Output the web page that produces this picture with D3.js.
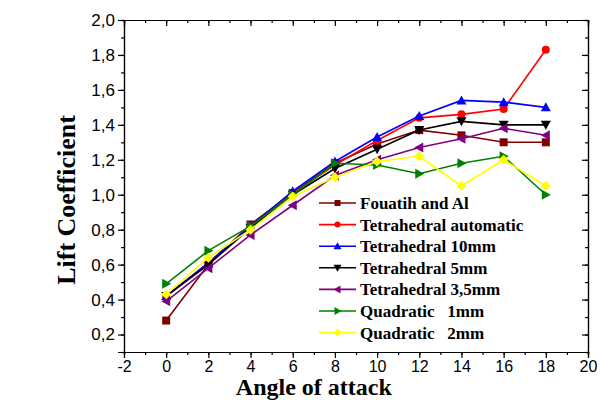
<!DOCTYPE html>
<html>
<head>
<meta charset="utf-8">
<script src="https://cdn.jsdelivr.net/npm/d3@7"></script>
<style>
 body { margin: 0; background: #fff; }
 svg text { font-family: "Liberation Sans", Arial, sans-serif; }
</style>
</head>
<body>
<svg width="600" height="400"></svg>
<script>
// data
var angles = [0, 2, 4, 6, 8, 10, 12, 14, 16, 18];
var fouatih   = [0.28, 0.60, 0.83, 1.01, 1.18, 1.29, 1.37, 1.34, 1.30, 1.30];
var tetAuto   = [0.42, 0.61, 0.82, 1.01, 1.17, 1.31, 1.44, 1.46, 1.49, 1.83];
var tet10     = [0.42, 0.61, 0.82, 1.02, 1.19, 1.33, 1.45, 1.54, 1.53, 1.50];
var tet5      = [0.42, 0.60, 0.81, 1.00, 1.15, 1.26, 1.37, 1.42, 1.40, 1.40];
var tet35     = [0.39, 0.58, 0.77, 0.94, 1.11, 1.20, 1.27, 1.32, 1.38, 1.34];
var quad1     = [0.49, 0.68, 0.82, 1.00, 1.18, 1.17, 1.12, 1.18, 1.22, 1.00];
var quad2     = [0.43, 0.64, 0.80, 0.99, 1.10, 1.19, 1.22, 1.05, 1.20, 1.05];

var seriesNames = ["Fouatih and Al", "Tetrahedral automatic", "Tetrahedral 10mm",
 "Tetrahedral 5mm", "Tetrahedral 3,5mm", "Quadratic   1mm", "Quadratic   2mm"];
var xTicks = [-2, 0, 2, 4, 6, 8, 10, 12, 14, 16, 18, 20];
var yTicks = [0.2, 0.4, 0.6, 0.8, 1.0, 1.2, 1.4, 1.6, 1.8, 2.0];

var series = [
 {name: seriesNames[0], values: fouatih, color: "#800000", shape: "square"},
 {name: seriesNames[1], values: tetAuto, color: "#ff0000", shape: "circle"},
 {name: seriesNames[2], values: tet10,   color: "#0000ff", shape: "up"},
 {name: seriesNames[3], values: tet5,    color: "#000000", shape: "down"},
 {name: seriesNames[4], values: tet35,   color: "#800080", shape: "left"},
 {name: seriesNames[5], values: quad1,   color: "#008000", shape: "right"},
 {name: seriesNames[6], values: quad2,   color: "#ffff00", shape: "diamond"}
];

var svg = d3.select("svg"),
 margin = {top: 20, right: 12, bottom: 48, left: 124},
 width = +svg.attr("width") - margin.left - margin.right,
 height = +svg.attr("height") - margin.top - margin.bottom;

var x = d3.scaleLinear().domain([-2, 20]).range([0, width]);
var y = d3.scaleLinear().domain([0.1, 2.0]).range([height, 0]);

var g = svg.append("g")
 .attr("transform", "translate(" + margin.left + "," + margin.top + ")");

var comma = function(d) { return d3.format(".1f")(d).replace(".", ","); };
var xMinor = d3.range(-2, 20.01, 1);
var yMinor = d3.range(0.1, 2.001, 0.1);

function styleAxis(sel, size) {
 sel.selectAll("path").attr("stroke", "#000").attr("stroke-width", 1.2);
 sel.selectAll("line").attr("stroke", "#000").attr("stroke-width", 1.2);
 sel.selectAll("text").attr("font-size", (size || 17) + "px").attr("fill", "#000");
}

// minor ticks
g.append("g").attr("transform", "translate(0," + height + ")")
 .call(d3.axisBottom(x).tickValues(xMinor).tickSize(3).tickFormat(""))
 .call(styleAxis);
g.append("g")
 .call(d3.axisTop(x).tickValues(xMinor).tickSize(-3).tickFormat(""))
 .call(styleAxis);
g.append("g")
 .call(d3.axisLeft(y).tickValues(yMinor).tickSize(3).tickFormat(""))
 .call(styleAxis);
g.append("g").attr("transform", "translate(" + width + ",0)")
 .call(d3.axisRight(y).tickValues(yMinor).tickSize(-3).tickFormat(""))
 .call(styleAxis);

// major ticks
g.append("g").attr("transform", "translate(0," + height + ")")
 .call(d3.axisBottom(x).tickValues(xTicks).tickSize(6).tickPadding(3)
  .tickFormat(function(d) { return String(d); }))
 .call(styleAxis, 16);
g.append("g")
 .call(d3.axisTop(x).tickValues(xTicks).tickSize(-6).tickFormat(""))
 .call(styleAxis);
g.append("g")
 .call(d3.axisLeft(y).tickValues(yTicks).tickSize(6).tickPadding(3).tickFormat(comma))
 .call(styleAxis, 17);
g.append("g").attr("transform", "translate(" + width + ",0)")
 .call(d3.axisRight(y).tickValues(yTicks).tickSize(-6).tickFormat(""))
 .call(styleAxis);

// marker shapes
function marker(sel, shape, color, s) {
 var h = s / 2;
 if (shape == "circle") {
  sel.append("circle").attr("r", h).attr("fill", color);
  return;
 }
 var pts;
 if (shape == "square") pts = [[-h, -h], [h, -h], [h, h], [-h, h]];
 else if (shape == "up") pts = [[0, -h - 1], [h + 1, h], [-h - 1, h]];
 else if (shape == "down") pts = [[0, h + 1], [h + 1, -h], [-h - 1, -h]];
 else if (shape == "left") pts = [[-h - 1, 0], [h, -h - 1], [h, h + 1]];
 else if (shape == "right") pts = [[h + 1, 0], [-h, -h - 1], [-h, h + 1]];
 else pts = [[0, -h - 1], [h + 1, 0], [0, h + 1], [-h - 1, 0]];
 sel.append("polygon").attr("points", pts.map(function(p) { return p.join(","); }).join(" "))
  .attr("fill", color);
}

var line = d3.line()
 .x(function(d, i) { return x(angles[i]); })
 .y(function(d) { return y(d); });

series.forEach(function(s) {
 g.append("path")
  .datum(s.values)
  .attr("d", line)
  .attr("fill", "none")
  .attr("stroke", s.color)
  .attr("stroke-width", 1.6);
 g.selectAll(".pt-" + s.shape)
  .data(s.values)
  .enter()
  .append("g")
  .attr("class", "pt-" + s.shape)
  .attr("transform", function(d, i) { return "translate(" + x(angles[i]) + "," + y(d) + ")"; })
  .each(function() { marker(d3.select(this), s.shape, s.color, 8); });
});

// legend
var legend = g.append("g").attr("transform", "translate(195,183)");
series.forEach(function(s, i) {
 var row = legend.append("g").attr("transform", "translate(0," + (i * 21.6) + ")");
 row.append("line").attr("x1", 0).attr("x2", 37).attr("y1", 0).attr("y2", 0)
  .attr("stroke", s.color).attr("stroke-width", 1.6);
 marker(row.append("g").attr("transform", "translate(18.5,0)"), s.shape, s.color, 6);
 row.append("text")
  .attr("x", 41).attr("y", 6)
  .attr("xml:space", "preserve")
  .style("white-space", "pre")
  .style("font-family", "'Liberation Serif', 'Times New Roman', serif")
  .style("font-weight", "bold")
  .attr("font-size", "17px")
  .text(s.name);
});

// axis titles
svg.append("text")
 .attr("x", margin.left + x(7))
 .attr("y", 395)
 .attr("text-anchor", "middle")
 .style("font-family", "'Liberation Serif', 'Times New Roman', serif")
 .style("font-weight", "bold")
 .attr("font-size", "24px")
 .text("Angle of attack");

svg.append("text")
 .attr("transform", "translate(75,200) rotate(-90)")
 .attr("text-anchor", "middle")
 .style("font-family", "'Liberation Serif', 'Times New Roman', serif")
 .style("font-weight", "bold")
 .attr("font-size", "26px")
 .text("Lift Coefficient");
</script>
</body>
</html>
